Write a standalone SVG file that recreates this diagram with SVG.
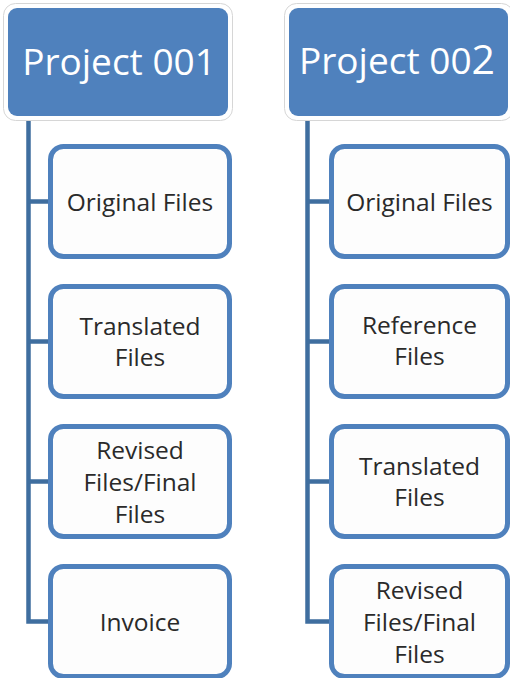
<svg xmlns="http://www.w3.org/2000/svg" width="510" height="678" viewBox="0 0 510 678">
  <style>
    .halo { fill: #ffffff; stroke: #d6d6d6; stroke-width: 1; }
    .head { fill: #4f81bd; }
    .head-text { fill: #ffffff; font-family: "Open Sans", "Liberation Sans", sans-serif; font-size: 37px; text-anchor: middle; }
    .box { fill: #fdfdfd; stroke: #4f81bd; stroke-width: 5; }
    .label { fill: #2a2a2a; font-family: "Open Sans", "Liberation Sans", sans-serif; font-size: 24.5px; text-anchor: middle; }
    .link { fill: none; stroke: #3f6e9f; stroke-width: 4.5; stroke-linejoin: miter; }
  </style>
  <rect width="510" height="678" fill="#ffffff"/>

  <!-- tree connectors -->
  <g id="connectors">
    <path class="link" d="M28.5 117 V621.5 H50"/>
    <path class="link" d="M28.5 201.5 H50 M28.5 341.5 H50 M28.5 481.5 H50"/>
    <path class="link" d="M307.5 117 V621.5 H331"/>
    <path class="link" d="M307.5 201.5 H331 M307.5 341.5 H331 M307.5 481.5 H331"/>
  </g>

  <!-- column 1 -->
  <g id="project-001">
    <rect class="halo" x="3.5" y="3.5" width="229" height="117" rx="12"/>
    <rect class="head" x="8" y="8" width="220" height="108" rx="9"/>
    <text class="head-text" x="119" y="75">Project 001</text>
  </g>
  <g id="p1-original">
    <rect class="box" x="50.5" y="146.5" width="179" height="110" rx="13"/>
    <text class="label" x="140" y="210.5">Original Files</text>
  </g>
  <g id="p1-translated">
    <rect class="box" x="50.5" y="286.5" width="179" height="110" rx="13"/>
    <text class="label" x="140" y="334.5">Translated</text>
    <text class="label" x="140" y="366">Files</text>
  </g>
  <g id="p1-revised">
    <rect class="box" x="50.5" y="426.5" width="179" height="110" rx="13"/>
    <text class="label" x="140" y="458.5">Revised</text>
    <text class="label" x="140" y="490.5">Files/Final</text>
    <text class="label" x="140" y="522.5">Files</text>
  </g>
  <g id="p1-invoice">
    <rect class="box" x="50.5" y="566.5" width="179" height="110" rx="13"/>
    <text class="label" x="140" y="630.5">Invoice</text>
  </g>

  <!-- column 2 -->
  <g id="project-002">
    <rect class="halo" x="284.5" y="3.5" width="229" height="117" rx="12"/>
    <rect class="head" x="289" y="8" width="219" height="108" rx="9"/>
    <text class="head-text" x="397" y="74">Project 00<tspan font-size="41px">2</tspan></text>
  </g>
  <g id="p2-original">
    <rect class="box" x="331.5" y="146.5" width="176" height="110" rx="13"/>
    <text class="label" x="419.5" y="210.5">Original Files</text>
  </g>
  <g id="p2-reference">
    <rect class="box" x="331.5" y="286.5" width="176" height="110" rx="13"/>
    <text class="label" x="419.5" y="333.5">Reference</text>
    <text class="label" x="419.5" y="365">Files</text>
  </g>
  <g id="p2-translated">
    <rect class="box" x="331.5" y="426.5" width="176" height="110" rx="13"/>
    <text class="label" x="419.5" y="474.5">Translated</text>
    <text class="label" x="419.5" y="506">Files</text>
  </g>
  <g id="p2-revised">
    <rect class="box" x="331.5" y="566.5" width="176" height="110" rx="13"/>
    <text class="label" x="419.5" y="598.5">Revised</text>
    <text class="label" x="419.5" y="630.5">Files/Final</text>
    <text class="label" x="419.5" y="662.5">Files</text>
  </g>
</svg>
